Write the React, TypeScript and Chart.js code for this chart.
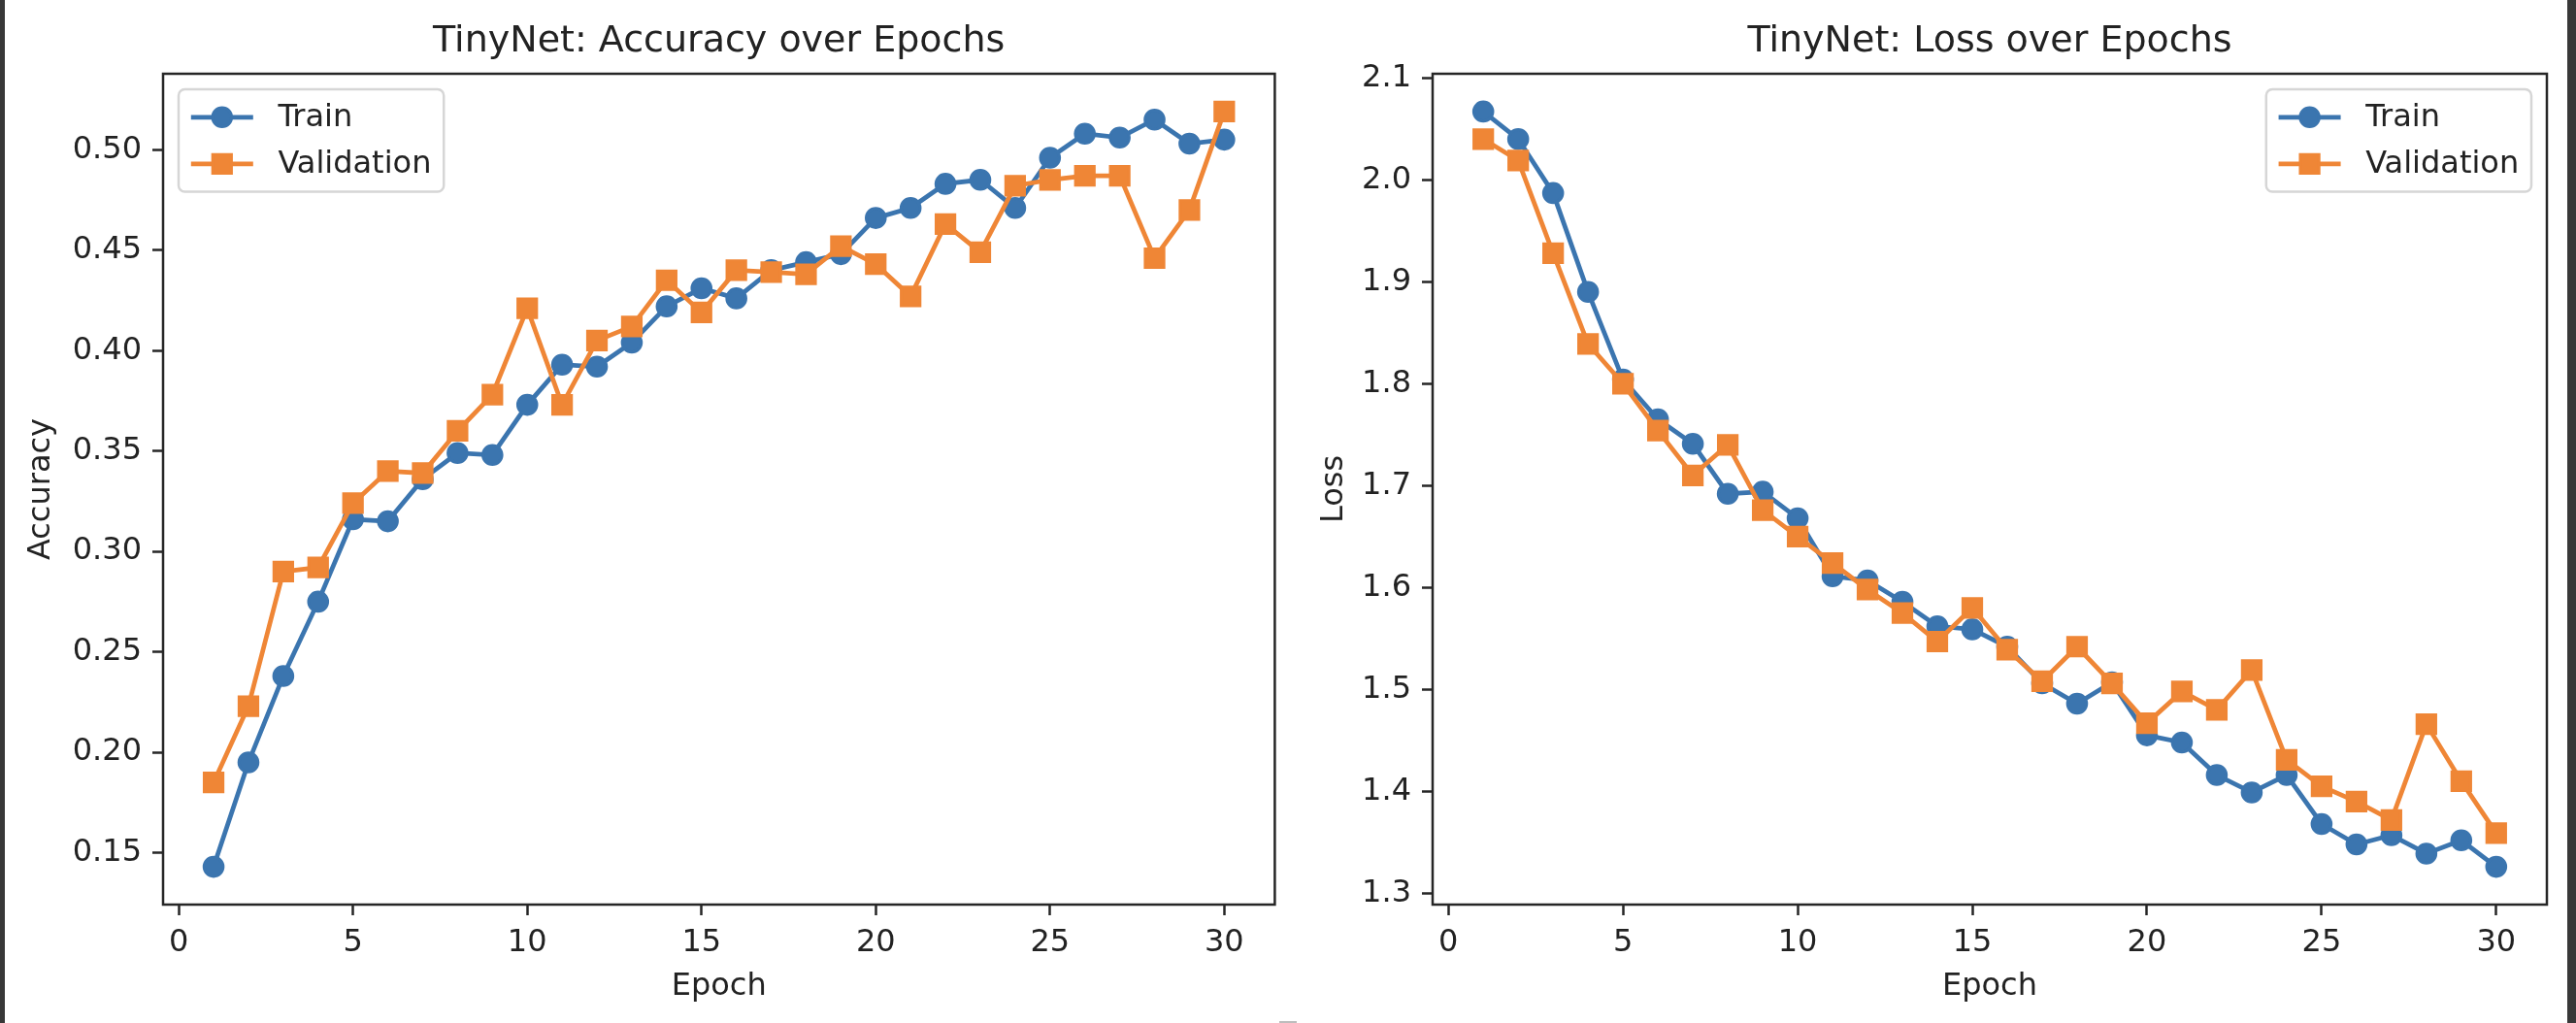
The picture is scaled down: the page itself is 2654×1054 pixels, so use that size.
import React, { useEffect, useRef } from 'react';
import { Chart, registerables } from 'chart.js';

Chart.register(...registerables);

// ---------- data ----------
const epochs = [1, 2, 3, 4, 5, 6, 7, 8, 9, 10, 11, 12, 13, 14, 15, 16, 17, 18, 19, 20, 21, 22, 23, 24, 25, 26, 27, 28, 29, 30];

const trainAcc = [0.143, 0.195, 0.238, 0.275, 0.316, 0.315, 0.336, 0.349, 0.348, 0.373, 0.393, 0.392, 0.404, 0.422, 0.431, 0.426, 0.440, 0.444, 0.448, 0.466, 0.471, 0.483, 0.485, 0.471, 0.496, 0.508, 0.506, 0.515, 0.503, 0.505];
const valAcc = [0.185, 0.223, 0.290, 0.292, 0.324, 0.340, 0.339, 0.360, 0.378, 0.421, 0.373, 0.405, 0.412, 0.435, 0.419, 0.440, 0.439, 0.438, 0.452, 0.443, 0.427, 0.463, 0.449, 0.482, 0.485, 0.487, 0.487, 0.446, 0.470, 0.519];

const trainLoss = [2.067, 2.040, 1.987, 1.890, 1.804, 1.765, 1.741, 1.692, 1.694, 1.668, 1.611, 1.607, 1.586, 1.562, 1.559, 1.542, 1.506, 1.486, 1.507, 1.455, 1.448, 1.416, 1.399, 1.416, 1.368, 1.348, 1.357, 1.339, 1.352, 1.326];
const valLoss = [2.040, 2.019, 1.928, 1.839, 1.800, 1.754, 1.710, 1.740, 1.676, 1.650, 1.624, 1.598, 1.575, 1.547, 1.580, 1.539, 1.508, 1.542, 1.506, 1.467, 1.498, 1.480, 1.519, 1.431, 1.405, 1.390, 1.372, 1.466, 1.410, 1.359];

const seriesLabels = ['Train', 'Validation'];
const xTickStep = 5;

// ---------- style ----------
const FONT = "'DejaVu Sans', sans-serif";
const TEXT = '#222222';
const SPINE = '#262626';
const BLUE = '#3b75af';
const ORANGE = '#ef8636';
const H = 1054;

function limits(values: number[]): [number, number] {
  const lo = Math.min(...values);
  const hi = Math.max(...values);
  const m = (hi - lo) * 0.05;
  return [lo - m, hi + m];
}

const decorPlugin = {
  id: 'mplDecor',
  afterDatasetsDraw(chart: any, _args: any, opts: any) {
    const { ctx, chartArea: a } = chart;
    ctx.save();
    // axes frame
    ctx.strokeStyle = SPINE;
    ctx.lineWidth = 2.5;
    ctx.strokeRect(a.left, a.top, a.right - a.left, a.bottom - a.top);

    // legend
    const fs = 32;
    ctx.font = `${fs}px ${FONT}`;
    const pad = 0.4 * fs;
    const handle = 2 * fs;
    const tpad = 0.8 * fs;
    const spacing = 0.5 * fs;
    const rowH = fs;
    const axpad = 0.5 * fs;
    const ds = chart.data.datasets;
    const tw = Math.max(...ds.map((d: any) => ctx.measureText(d.label).width));
    const w = pad * 2 + handle + tpad + tw;
    const h = pad * 2 + rowH * ds.length + spacing * (ds.length - 1);
    const x = opts.side === 'right' ? a.right - axpad - w : a.left + axpad;
    const y = a.top + axpad;
    ctx.beginPath();
    if ((ctx as any).roundRect) (ctx as any).roundRect(x, y, w, h, 6.4);
    else ctx.rect(x, y, w, h);
    ctx.fillStyle = 'rgba(255,255,255,0.8)';
    ctx.fill();
    ctx.strokeStyle = '#d6d6d6';
    ctx.lineWidth = 2.5;
    ctx.stroke();

    ds.forEach((d: any, i: number) => {
      const cy = y + pad + rowH / 2 + i * (rowH + spacing);
      const x0 = x + pad;
      const x1 = x0 + handle;
      ctx.strokeStyle = d.borderColor;
      ctx.lineWidth = d.borderWidth;
      ctx.beginPath();
      ctx.moveTo(x0, cy);
      ctx.lineTo(x1, cy);
      ctx.stroke();
      const cx = (x0 + x1) / 2;
      ctx.fillStyle = d.borderColor;
      ctx.lineWidth = d.pointBorderWidth;
      ctx.beginPath();
      if (d.pointStyle === 'rect') {
        const s = d.pointRadius * Math.SQRT1_2;
        ctx.rect(cx - s, cy - s, 2 * s, 2 * s);
      } else {
        ctx.arc(cx, cy, d.pointRadius, 0, Math.PI * 2);
      }
      ctx.fill();
      ctx.stroke();
      ctx.fillStyle = TEXT;
      ctx.textAlign = 'left';
      ctx.textBaseline = 'middle';
      ctx.fillText(d.label, x1 + tpad, cy + 1);
    });
    ctx.restore();
  },
};

interface PanelProps {
  left: number;
  width: number;
  yAxisWidth: number;
  padRight: number;
  yTitlePad: number;
  title: string;
  yLabel: string;
  train: number[];
  val: number[];
  decimals: number;
  yStep: number;
  legendSide: 'left' | 'right';
}

function Panel(p: PanelProps) {
  const ref = useRef<HTMLCanvasElement>(null);
  useEffect(() => {
    if (!ref.current) return;
    const [ymin, ymax] = limits([...p.train, ...p.val]);
    const [xmin, xmax] = limits(epochs);
    const tickFont = { family: FONT, size: 32 };
    const mk = (label: string, values: number[], color: string, style: string, radius: number, order: number) => ({
      label,
      data: epochs.map((e, i) => ({ x: e, y: values[i] })),
      borderColor: color,
      backgroundColor: color,
      borderWidth: 4.75,
      pointStyle: style,
      pointRadius: radius,
      pointHoverRadius: radius,
      pointBorderWidth: 3,
      pointBackgroundColor: color,
      pointBorderColor: color,
      tension: 0,
      order,
    });
    const chart = new Chart(ref.current, {
      type: 'line',
      data: {
        datasets: [
          mk(seriesLabels[0], p.train, BLUE, 'circle', 9.8, 1),
          mk(seriesLabels[1], p.val, ORANGE, 'rect', 13.6, 0),
        ] as any,
      },
      options: {
        responsive: false,
        animation: false,
        events: [],
        layout: { padding: { left: 0, right: p.padRight, top: 0, bottom: 0 } },
        plugins: {
          legend: { display: false },
          tooltip: { enabled: false },
          title: {
            display: true,
            text: p.title,
            fullSize: false,
            color: TEXT,
            font: { family: FONT, size: 38, weight: 'normal' },
            padding: { top: 20, bottom: 10.4 },
          },
          mplDecor: { side: p.legendSide },
        } as any,
        scales: {
          x: {
            type: 'linear',
            min: xmin,
            max: xmax,
            afterFit: (s: any) => { s.height = 122; },
            ticks: {
              stepSize: xTickStep,
              includeBounds: false,
              autoSkip: false,
              maxRotation: 0,
              color: TEXT,
              font: tickFont,
              padding: 9,
              callback: (v: any) => String(v),
            },
            grid: {
              display: true,
              drawOnChartArea: false,
              drawTicks: true,
              tickLength: 11,
              tickColor: SPINE,
              tickWidth: 2.5,
            },
            border: { display: false },
            title: {
              display: true,
              text: 'Epoch',
              color: TEXT,
              font: tickFont,
              padding: { top: 0, bottom: 18 },
            },
          },
          y: {
            type: 'linear',
            min: ymin,
            max: ymax,
            afterFit: (s: any) => { s.width = p.yAxisWidth; },
            ticks: {
              stepSize: p.yStep,
              includeBounds: false,
              autoSkip: false,
              color: TEXT,
              font: tickFont,
              padding: 11,
              callback: (v: any) => Number(v).toFixed(p.decimals),
            },
            grid: {
              display: true,
              drawOnChartArea: false,
              drawTicks: true,
              tickLength: 11,
              tickColor: SPINE,
              tickWidth: 2.5,
            },
            border: { display: false },
            title: {
              display: true,
              text: p.yLabel,
              color: TEXT,
              font: tickFont,
              padding: { top: p.yTitlePad, bottom: 0 },
            },
          },
        },
      } as any,
      plugins: [decorPlugin as any],
    });
    return () => chart.destroy();
  }, []);
  return (
    <canvas
      ref={ref}
      width={p.width}
      height={H}
      style={{ position: 'absolute', left: p.left, top: 0, width: p.width, height: H }}
    />
  );
}

export default function App() {
  return (
    <div style={{ position: 'fixed', left: 0, top: 0, width: 2654, height: H, background: '#ffffff', overflow: 'hidden' }}>
      <Panel
        left={0}
        width={1330}
        yAxisWidth={168}
        padRight={14}
        yTitlePad={23}
        title="TinyNet: Accuracy over Epochs"
        yLabel="Accuracy"
        train={trainAcc}
        val={valAcc}
        decimals={2}
        yStep={0.05}
        legendSide="left"
      />
      <Panel
        left={1330}
        width={1324}
        yAxisWidth={146}
        padRight={30}
        yTitlePad={25}
        title="TinyNet: Loss over Epochs"
        yLabel="Loss"
        train={trainLoss}
        val={valLoss}
        decimals={1}
        yStep={0.1}
        legendSide="right"
      />
      <div style={{ position: 'absolute', left: 0, top: 0, width: 5, height: H, background: '#383838' }} />
      <div style={{ position: 'absolute', left: 2645, top: 0, width: 9, height: H, background: '#383838' }} />
      <div style={{ position: 'absolute', left: 1318, top: 1052, width: 18, height: 2, background: '#bdbdbd' }} />
    </div>
  );
}
